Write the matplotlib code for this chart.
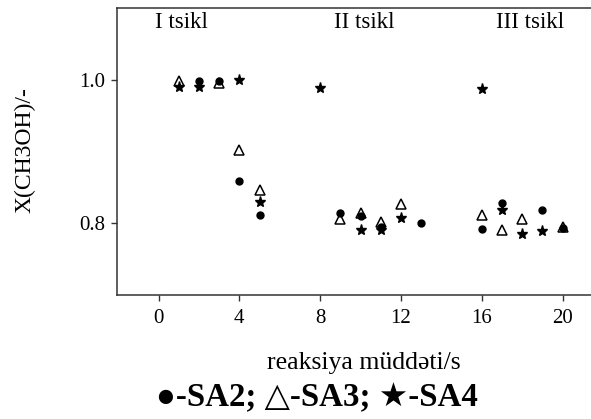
import matplotlib
matplotlib.use("Agg")
from matplotlib import pyplot as plt

# data
sa2_x = [2, 3, 4, 5, 9, 10, 11, 13, 16, 17, 19, 20]
sa2_y = [0.999, 0.999, 0.859, 0.811, 0.814, 0.810, 0.795, 0.800, 0.792, 0.829, 0.819, 0.793]

sa3_x = [1, 3, 4, 5, 9, 10, 11, 12, 16, 17, 18, 20]
sa3_y = [0.998, 0.996, 0.902, 0.846, 0.806, 0.815, 0.802, 0.827, 0.812, 0.791, 0.806, 0.795]

sa4_x = [1, 2, 4, 5, 8, 10, 11, 12, 16, 17, 18, 19]
sa4_y = [0.990, 0.990, 1.000, 0.830, 0.989, 0.791, 0.791, 0.808, 0.988, 0.818, 0.785, 0.789]

cycle_labels = ["I tsikl", "II tsikl", "III tsikl"]
cycle_x = [1.15, 10.2, 18.4]

x_ticks = [0, 4, 8, 12, 16, 20]
y_ticks = [0.8, 1.0]

serif = ["Liberation Serif", "DejaVu Serif", "DejaVu Sans"]
plt.rcParams["font.family"] = serif

fig = plt.figure(figsize=(5.91, 4.19), dpi=100)
ax = fig.add_axes([0.1985, 0.296, 0.8015, 0.684])

ax.plot(sa3_x, sa3_y, "^", ms=6.8, mfc="white", mec="black", mew=1.1, ls="none")
ax.plot(sa2_x, sa2_y, "o", ms=5.0, color="black", ls="none")
ax.plot(sa4_x, sa4_y, "*", ms=8, color="black", ls="none")

for lab, xx in zip(cycle_labels, cycle_x):
    ax.text(xx, 1.08, lab, ha="center", va="center", fontsize=16.5)

ax.set_xlim(-2.04, 21.4)
ax.set_ylim(0.7, 1.1)
ax.set_xticks(x_ticks)
ax.set_yticks(y_ticks)
ax.set_yticklabels(["0.8", "1.0"])
ax.tick_params(direction="out", length=4, width=1, labelsize=15, color="#333333")
ax.tick_params(axis="x", pad=6)
ax.tick_params(axis="y", pad=5)

for s in ["left", "top", "bottom"]:
    ax.spines[s].set_linewidth(1.1)
    ax.spines[s].set_color("#333333")
ax.spines["right"].set_visible(False)

fig.text(0.042, 0.642, "X(CH3OH)/-", rotation=90, ha="center", va="center",
         fontsize=17, family=serif)
fig.text(0.616, 0.134, "reaksiya müddəti/s", ha="center", va="center", fontsize=18.5)
fig.text(0.536, 0.05, "●-SA2; △-SA3; ★-SA4", ha="center", va="center",
         fontsize=23.7, fontweight="bold", family=serif)

fig.savefig("out.png", dpi=100)
